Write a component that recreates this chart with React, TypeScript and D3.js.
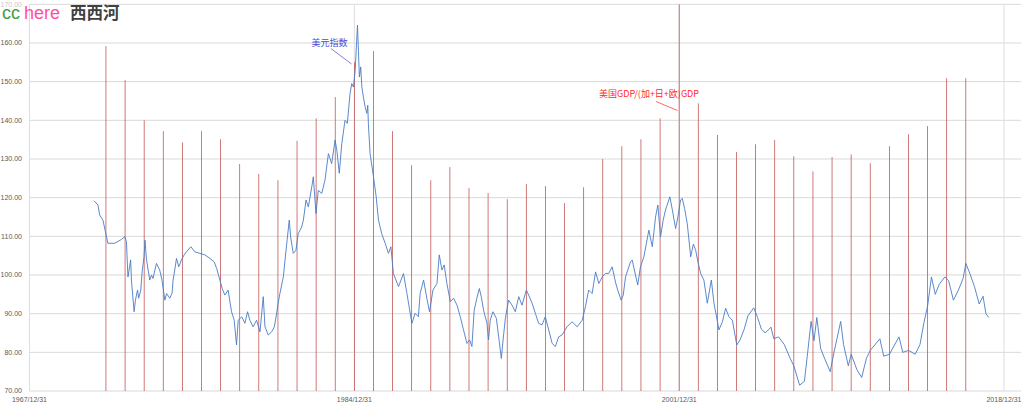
import React from "react";
import * as d3 from "d3";

const yTicks = [70, 80, 90, 100, 110, 120, 130, 140, 150, 160, 170];
const xTickLabels = ["1967/12/31", "1984/12/31", "2001/12/31", "2018/12/31"];

const barYears = d3.range(1971, 2017);
const barValues = [
  159.2, 150.4, 140.0, 137.2, 134.3, 137.2, 135.1, 128.7, 126.1, 124.5,
  134.7, 140.5, 146.0, 155.0, 157.9, 137.2, 128.4, 124.5, 127.9, 122.5,
  121.2, 119.6, 123.5, 123.0, 118.6, 122.7, 130.0, 133.3, 135.1, 140.5,
  170.0, 144.4, 136.2, 131.8, 133.8, 134.9, 130.7, 126.8, 130.5, 131.2,
  128.9, 133.3, 136.4, 138.5, 150.9, 150.9,
];

const dxyYears = [
  1971.37, 1971.58, 1971.67, 1971.84, 1971.97, 1972.1, 1972.46, 1972.81, 1972.98, 1973.07,
  1973.12, 1973.15, 1973.29, 1973.33, 1973.47, 1973.54, 1973.65, 1973.71, 1973.82, 1973.89,
  1973.99, 1974.04, 1974.12, 1974.29, 1974.38, 1974.46, 1974.64, 1974.81, 1974.93, 1975.08,
  1975.17, 1975.34, 1975.46, 1975.51, 1975.6, 1975.69, 1975.81, 1975.95, 1976.09, 1976.21,
  1976.44, 1976.65, 1976.91, 1977.17, 1977.44, 1977.66, 1977.79, 1977.96, 1978.08, 1978.22,
  1978.39, 1978.57, 1978.71, 1978.83, 1978.92, 1979.1, 1979.27, 1979.41, 1979.53, 1979.7,
  1979.88, 1980.06, 1980.23, 1980.32, 1980.49, 1980.67, 1980.81, 1980.93,
  1981.01, 1981.1, 1981.28, 1981.37, 1981.46, 1981.59, 1981.66, 1981.8, 1981.94, 1982.06,
  1982.24, 1982.33, 1982.47, 1982.59, 1982.77, 1982.85, 1982.99, 1983.11, 1983.29, 1983.46,
  1983.64, 1983.81, 1983.99, 1984.08, 1984.21, 1984.34, 1984.51, 1984.63, 1984.77, 1984.86,
  1984.95, 1985.04, 1985.16, 1985.21, 1985.26, 1985.33, 1985.39, 1985.47, 1985.56, 1985.65,
  1985.7, 1985.73, 1985.82, 1986.0, 1986.14, 1986.26, 1986.43, 1986.61, 1986.78, 1986.91,
  1987.04, 1987.31, 1987.57, 1987.75, 1988.01, 1988.18, 1988.35,
  1988.44, 1988.62, 1988.79, 1988.93, 1989.11, 1989.32, 1989.44, 1989.58, 1989.7, 1989.84,
  1990.02, 1990.19, 1990.37, 1990.54, 1990.71, 1990.89, 1991.03, 1991.15, 1991.27, 1991.41,
  1991.54, 1991.64, 1991.76, 1991.94, 1992.02, 1992.11, 1992.25, 1992.43, 1992.55, 1992.69,
  1992.78, 1992.9, 1993.07, 1993.25, 1993.42, 1993.6, 1993.77, 1994.0, 1994.12, 1994.3,
  1994.47, 1994.64, 1994.82, 1994.99, 1995.17, 1995.35, 1995.52, 1995.69, 1995.87, 1996.13,
  1996.39, 1996.66, 1996.92, 1997.09, 1997.26, 1997.44, 1997.62, 1997.79, 1997.97, 1998.14,
  1998.31, 1998.49, 1998.66, 1998.78, 1998.96, 1999.07, 1999.19, 1999.45, 1999.54, 1999.71,
  1999.83, 1999.97, 2000.15, 2000.41, 2000.59, 2000.76, 2000.88, 2001.02, 2001.16, 2001.28,
  2001.51, 2001.64, 2001.81, 2001.93, 2002.07, 2002.16, 2002.28, 2002.42, 2002.6, 2002.74,
  2002.86, 2002.98, 2003.12, 2003.29, 2003.47, 2003.68, 2003.82, 2004.08, 2004.26, 2004.43,
  2004.6, 2004.78, 2005.01, 2005.18,
  2005.4, 2005.6, 2005.9, 2006.1, 2006.3, 2006.5, 2006.8, 2006.95, 2007.2, 2007.5,
  2007.8, 2008.0, 2008.3, 2008.55, 2008.7, 2008.9, 2009.05, 2009.2, 2009.4, 2009.6,
  2009.9, 2010.1, 2010.45, 2010.6, 2010.85, 2011.0, 2011.3, 2011.55, 2011.8, 2012.0,
  2012.5, 2012.7, 2013.0, 2013.5, 2013.7, 2014.0, 2014.35, 2014.6, 2014.8, 2015.0,
  2015.2, 2015.4, 2015.6, 2015.9, 2016.1, 2016.35, 2016.6, 2016.85, 2017.0, 2017.2,
  2017.45, 2017.7, 2017.9, 2018.05, 2018.2,
];

const dxyValues = [
  119.2, 118.1, 115.5, 114.2, 111.2, 108.2, 108.2, 109.2, 109.9, 108.6,
  102.6, 99.5, 103.9, 98.7, 90.5, 93.5, 96.1, 94.0, 96.1, 100.8,
  104.7, 109.0, 103.9, 98.7, 100.0, 99.1, 103.0, 101.3, 98.7, 93.5,
  95.2, 94.0, 95.3, 98.7, 101.3, 104.3, 102.1, 103.9, 105.2, 106.0,
  107.3, 106.0, 105.6, 105.2, 104.3, 103.4, 101.7, 98.7, 96.5, 94.8,
  96.1, 90.5, 88.3, 81.9, 88.3, 89.2, 87.5, 90.5, 88.3, 86.6,
  88.3, 85.3, 94.4, 86.6, 84.5, 85.3, 86.6, 90.1,
  92.7, 95.2, 99.5, 103.9, 108.2, 114.2, 109.9, 105.6, 106.4, 110.7,
  112.4, 114.2, 119.4, 117.6, 122.8, 125.4, 115.9, 121.9, 121.1, 124.5,
  131.4, 128.8, 134.9, 132.3, 126.3, 134.0, 140.0, 139.2, 146.9, 149.5,
  148.6, 152.9, 164.6, 158.1, 151.2, 153.8, 148.6, 146.0, 143.5, 141.8,
  143.9, 139.2, 131.4, 125.4, 120.2, 114.2, 110.7, 108.2, 105.6, 107.3,
  100.4, 97.0, 100.4, 95.2, 87.5, 90.1, 89.2,
  95.2, 98.7, 94.0, 90.5, 96.1, 97.8, 105.2, 101.3, 102.6, 97.8,
  93.1, 94.0, 92.2, 89.2, 85.8, 82.3, 83.2, 81.5, 90.9, 94.0,
  96.5, 94.4, 90.9, 87.5, 83.2, 88.3, 90.5, 88.8, 84.0, 78.4,
  83.2, 88.8, 93.5, 92.2, 90.5, 94.4, 92.2, 96.1, 94.8, 92.7,
  90.1, 87.5, 87.1, 89.2, 85.8, 82.3, 81.5, 84.0, 84.5, 86.6,
  87.9, 86.6, 88.3, 91.8, 96.1, 95.2, 100.8, 97.8, 99.5, 100.4,
  100.4, 102.1, 98.2, 96.1, 93.5, 94.8, 99.5, 103.4, 103.9, 100.0,
  97.4, 102.1, 104.7, 111.6, 107.3, 115.0, 118.1, 109.9, 114.2, 116.8,
  120.2, 116.8, 112.0, 115.0, 119.4, 119.8, 117.2, 113.3, 104.7, 108.0,
  106.4, 103.4, 100.4, 98.7, 92.7, 98.7, 92.7, 85.8, 87.9, 91.4,
  89.2, 88.3, 81.9, 83.2,
  86.0, 89.5, 91.5, 89.0, 86.0, 85.0, 86.5, 83.5, 84.0, 82.0,
  78.5, 76.5, 71.5, 72.5, 79.0, 88.0, 83.0, 89.0, 81.0, 78.5,
  75.0, 80.0, 88.0, 82.0, 76.5, 79.5, 75.5, 73.5, 78.5, 80.5,
  83.5, 79.0, 79.5, 84.0, 80.0, 80.5, 79.5, 82.0, 87.5, 92.0,
  99.5, 95.0, 97.5, 99.5, 98.5, 93.5, 96.0, 99.0, 103.0, 100.5,
  97.0, 92.5, 94.5, 90.0, 89.0,
];

const W = 1024;
const H = 407;

function yearToDate(t: number): Date {
  const yr = Math.floor(t);
  const s = new Date(yr, 0, 1).getTime();
  const e = new Date(yr + 1, 0, 1).getTime();
  return new Date(s + (t - yr) * (e - s));
}

function parseLabel(s: string): Date {
  const [a, b, c] = s.split("/").map(Number);
  return new Date(a, b - 1, c);
}

export default function App() {
  const x = d3
    .scaleTime()
    .domain([new Date(1967, 11, 31), new Date(2018, 11, 31)])
    .range([29.5, 1004]);
  const y = d3.scaleLinear().domain([70, 170]).range([391, 4.3]);
  const plotRight = 1021;

  const line = d3
    .line<number>()
    .x((_, i) => x(yearToDate(dxyYears[i])))
    .y((v) => y(v));

  const axisFont = "'Liberation Sans', Arial, sans-serif";
  const cjkFont = "'Noto Sans CJK SC', 'Noto Sans', sans-serif";

  return (
    <svg
      width={W}
      height={H}
      style={{ position: "absolute", left: 0, top: 0, background: "#fff" }}
    >
      <rect x={0} y={0} width={W} height={H} fill="#fff" />
      {yTicks.map((t) => (
        <line
          key={"h" + t}
          x1={29.5}
          x2={plotRight}
          y1={y(t)}
          y2={y(t)}
          stroke="#d9d9d9"
          strokeWidth={1}
        />
      ))}
      {xTickLabels.map((l) => (
        <line
          key={"v" + l}
          x1={x(parseLabel(l))}
          x2={x(parseLabel(l))}
          y1={y(170)}
          y2={y(70)}
          stroke="#dedede"
          strokeWidth={1}
        />
      ))}
      {yTicks.map((t) => (
        <text
          key={"yl" + t}
          x={22}
          y={y(t)}
          dy="0.35em"
          textAnchor="end"
          fontFamily={axisFont}
          fontSize={7}
          fill={t === 170 ? "#c8c8c8" : "#595959"}
        >
          {t.toFixed(2)}
        </text>
      ))}
      {xTickLabels.map((l) => (
        <text
          key={"xl" + l}
          x={x(parseLabel(l))}
          y={402}
          textAnchor="middle"
          fontFamily={axisFont}
          fontSize={7}
          fill="#595959"
        >
          {l}
        </text>
      ))}
      {barYears.map((yr, i) => {
        const cx = x(new Date(yr, 11, 31));
        const top = y(Math.min(barValues[i], 170));
        return (
          <rect
            key={"b" + yr}
            x={cx - 0.38}
            y={top}
            width={0.76}
            height={y(70) - top}
            fill="#c0504d"
          />
        );
      })}
      <path
        d={line(dxyValues) || ""}
        fill="none"
        stroke="#4a7cc4"
        strokeWidth={0.9}
        strokeLinejoin="round"
      />
      <text
        x={329.5}
        y={42.5}
        dy="0.35em"
        textAnchor="middle"
        fontFamily={cjkFont}
        fontSize={9}
        fill="#4b4bd0"
      >
        美元指数
      </text>
      <line x1={331} y1={48.5} x2={351.5} y2={64} stroke="#4b4bd0" strokeWidth={0.7} />
      <text
        x={649}
        y={94}
        dy="0.35em"
        textAnchor="middle"
        fontFamily={cjkFont}
        fontSize={9}
        fill="#ff2a2a"
      >
        美国GDP/(加+日+欧)GDP
      </text>
      <line x1={656} y1={101.5} x2={677.5} y2={110.5} stroke="#ff2a2a" strokeWidth={0.7} />
      <text x={2} y={18.5} fontFamily={axisFont} fontSize={18} fill="#3ca03c">
        cc
      </text>
      <text x={24} y={18.5} fontFamily={axisFont} fontSize={18} fill="#ff4fa3">
        here
      </text>
      <text x={70} y={19} fontFamily={cjkFont} fontSize={16.5} fontWeight={700} fill="#404040">
        西西河
      </text>
    </svg>
  );
}
